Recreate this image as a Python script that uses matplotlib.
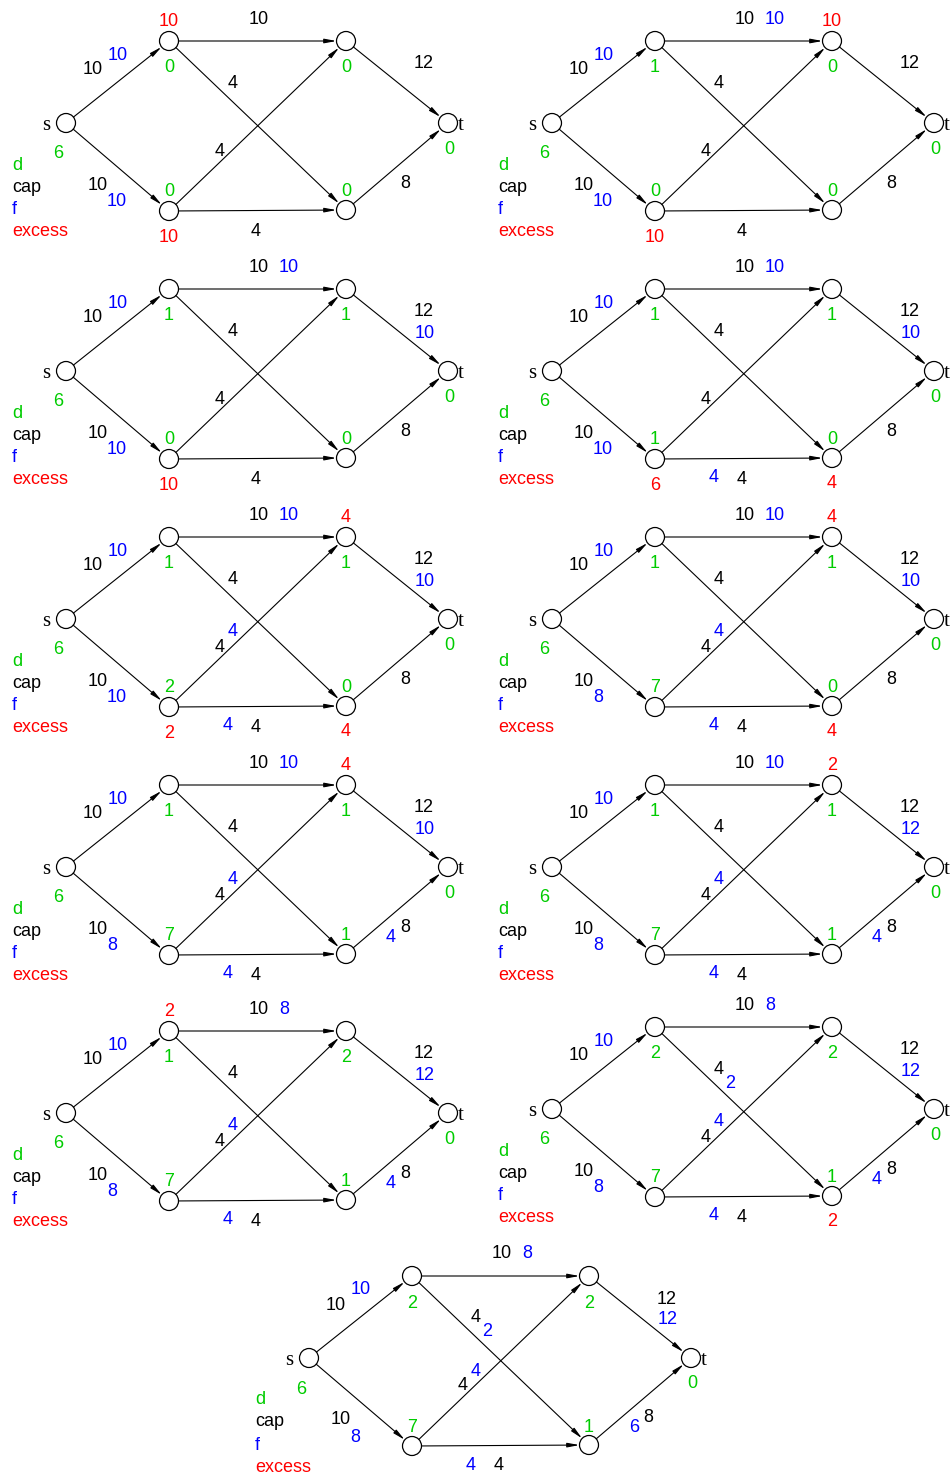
import matplotlib
matplotlib.use('Agg')
import matplotlib.pyplot as plt
from matplotlib.patches import Circle
import numpy as np

# push-relabel steps on a small network
nodes = ['s', 'a', 'b', 'c', 'e', 't']
edges = [('s', 'a'), ('s', 'b'), ('a', 'c'), ('a', 'e'),
         ('b', 'c'), ('b', 'e'), ('c', 't'), ('e', 't')]
caps = [10, 10, 10, 4, 4, 4, 12, 8]

# d label per node (s, a, b, c, e, t) for each step
dist = [
    [6, 0, 0, 0, 0, 0],
    [6, 1, 0, 0, 0, 0],
    [6, 1, 0, 1, 0, 0],
    [6, 1, 1, 1, 0, 0],
    [6, 1, 2, 1, 0, 0],
    [6, 1, 7, 1, 0, 0],
    [6, 1, 7, 1, 1, 0],
    [6, 1, 7, 1, 1, 0],
    [6, 1, 7, 2, 1, 0],
    [6, 2, 7, 2, 1, 0],
    [6, 2, 7, 2, 1, 0],
]

# excess per node (None = not shown)
N = None
excess = [
    [N, 10, 10, N, N, N],
    [N, N, 10, 10, N, N],
    [N, N, 10, N, N, N],
    [N, N, 6, N, 4, N],
    [N, N, 2, 4, 4, N],
    [N, N, N, 4, 4, N],
    [N, N, N, 4, N, N],
    [N, N, N, 2, N, N],
    [N, 2, N, N, N, N],
    [N, N, N, N, 2, N],
    [N, N, N, N, N, N],
]

# flow per edge (sa, sb, ac, ae, bc, be, ct, et)
flows = [
    [10, 10, N, N, N, N, N, N],
    [10, 10, 10, N, N, N, N, N],
    [10, 10, 10, N, N, N, 10, N],
    [10, 10, 10, N, N, 4, 10, N],
    [10, 10, 10, N, 4, 4, 10, N],
    [10, 8, 10, N, 4, 4, 10, N],
    [10, 8, 10, N, 4, 4, 10, 4],
    [10, 8, 10, N, 4, 4, 12, 4],
    [10, 8, 8, N, 4, 4, 12, 4],
    [10, 8, 8, 2, 4, 4, 12, 4],
    [10, 8, 8, 2, 4, 4, 12, 6],
]

# ---- layout (pixels, relative to the s node) ----
pos = {'s': (0, 0), 'a': (103, -82), 'b': (103, 88),
       'c': (280, -82), 'e': (280, 87), 't': (382, 0)}
origins = [(66, 123), (552, 123), (66, 371), (552, 371), (66, 619), (552, 619),
           (66, 867), (552, 867), (66, 1113), (552, 1109), (309, 1358)]
R = 9.5

# (dx, dy, ha) for cap and flow texts
cap_off = [(37, -55, 'right'), (42, 60, 'right'), (203, -106, 'right'), (167, -42, 'center'),
           (154, 26, 'center'), (190, 106, 'center'), (358, -61, 'center'), (339, 58, 'center')]
flow_off = [(42, -70, 'left'), (41, 77, 'left'), (213, -106, 'left'), (178, -28, 'center'),
            (167, 11, 'center'), (162, 105, 'center'), (359, -40, 'center'), (325, 68, 'center')]
d_off = {'s': (-8, 29), 'a': (0, 25), 'b': (0, -21), 'c': (0, 25), 'e': (0, -20), 't': (1, 24)}
ex_off = {'a': (0, -21), 'b': (0, 25), 'c': (0, -21), 'e': (0, 23)}

GREEN = '#00cc00'
BLUE = '#0000ff'
RED = '#ff0000'
FONT = 'Liberation Sans'
FS = 13

fig = plt.figure(figsize=(9.5, 14.76), dpi=100)
ax = fig.add_axes([0, 0, 1, 1])
ax.set_xlim(0, 950)
ax.set_ylim(1476, 0)
ax.axis('off')


def txt(x, y, s, color='black', ha='center', family=FONT, size=FS):
    ax.text(x, y, str(s), color=color, ha=ha, va='center_baseline',
            family=family, fontsize=size)


for k, (ox, oy) in enumerate(origins):
    P = {n: (ox + pos[n][0], oy + pos[n][1]) for n in nodes}
    for n in nodes:
        ax.add_patch(Circle(P[n], R, fill=False, lw=0.9, ec='black'))
    for (u, v) in edges:
        p0 = np.array(P[u], float)
        p1 = np.array(P[v], float)
        dv = (p1 - p0) / np.linalg.norm(p1 - p0)
        ax.annotate('', xy=p1 - dv * R, xytext=p0 + dv * R,
                    arrowprops=dict(arrowstyle='-|>,head_length=0.7,head_width=0.13',
                                    mutation_scale=10, lw=0.8, color='black',
                                    shrinkA=0, shrinkB=0))
    txt(P['s'][0] - 20, P['s'][1], 's', family='Liberation Serif', size=15)
    txt(P['t'][0] + 13, P['t'][1], 't', family='Liberation Serif', size=15)

    for i, n in enumerate(nodes):
        dx, dy = d_off[n]
        txt(P[n][0] + dx, P[n][1] + dy, dist[k][i], GREEN)
        if excess[k][i] is not None:
            dx, dy = ex_off[n]
            txt(P[n][0] + dx, P[n][1] + dy, excess[k][i], RED)

    for j in range(len(edges)):
        dx, dy, ha = cap_off[j]
        txt(ox + dx, oy + dy, caps[j], 'black', ha)
        if flows[k][j] is not None:
            dx, dy, ha = flow_off[j]
            txt(ox + dx, oy + dy, flows[k][j], BLUE, ha)

    # legend
    for lab, col, dy in [('d', GREEN, 40), ('cap', 'black', 62), ('f', BLUE, 85), ('excess', RED, 107)]:
        txt(ox - 54, oy + dy, lab, col, 'left')

fig.savefig('out.png', dpi=100)
